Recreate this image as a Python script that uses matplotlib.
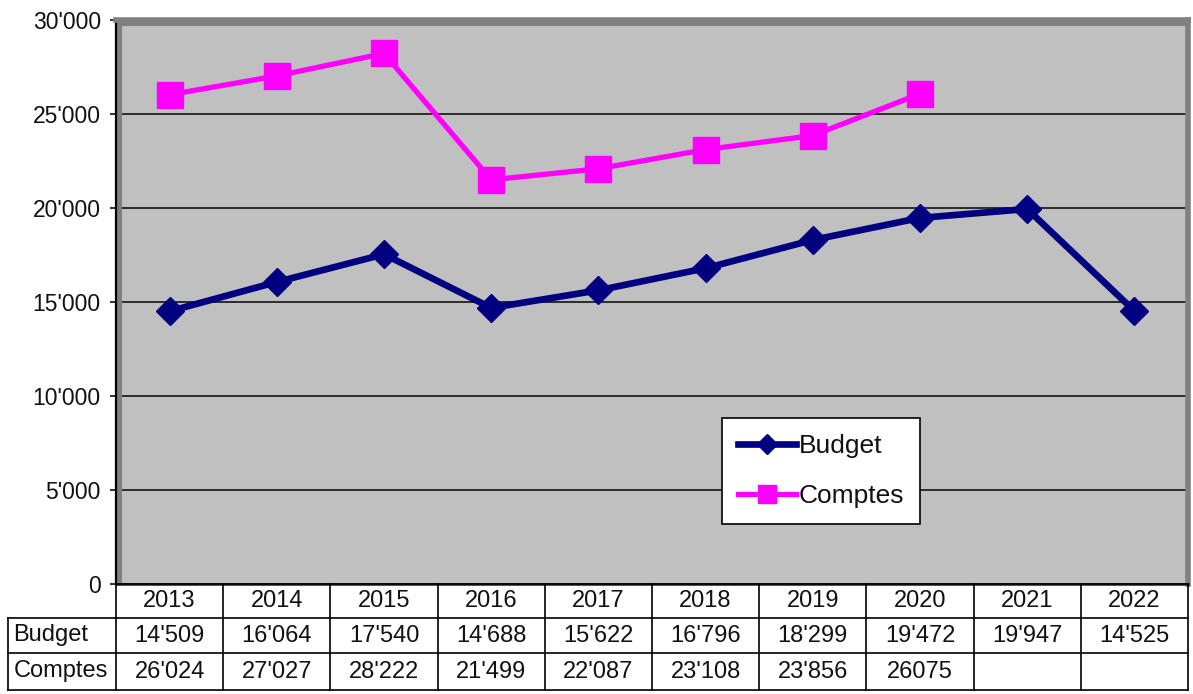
import matplotlib
matplotlib.use("Agg")
import matplotlib.pyplot as plt
from matplotlib.ticker import FuncFormatter, MultipleLocator
from matplotlib.transforms import blended_transform_factory

plt.rcParams['font.family'] = ['Liberation Sans', 'DejaVu Sans']

years = ['2013', '2014', '2015', '2016', '2017', '2018', '2019', '2020', '2021', '2022']
budget = [14509, 16064, 17540, 14688, 15622, 16796, 18299, 19472, 19947, 14525]
comptes = [26024, 27027, 28222, 21499, 22087, 23108, 23856, 26075]
budget_text = ["14'509", "16'064", "17'540", "14'688", "15'622", "16'796", "18'299", "19'472", "19'947", "14'525"]
comptes_text = ["26'024", "27'027", "28'222", "21'499", "22'087", "23'108", "23'856", "26075", "", ""]
row_labels = ['Budget', 'Comptes']

W, H = 1193, 694
fig = plt.figure(figsize=(W / 100, H / 100), dpi=100)
L, R, T, B = 116, 1188, 20, 584
ax = fig.add_axes([L / W, 1 - B / H, (R - L) / W, (B - T) / H])
ax.set_facecolor('#C0C0C0')

x = list(range(len(years)))
ax.plot(x, budget, color='#000080', lw=4.8, marker='D', markersize=14,
        label='Budget', zorder=3)
ax.plot(x[:len(comptes)], comptes, color='#FF00FF', lw=3.8, marker='s',
        markersize=19, label='Comptes', zorder=4)

ax.set_xlim(-0.5, len(years) - 0.5)
ax.set_ylim(0, 30000)
ax.yaxis.set_major_locator(MultipleLocator(5000))
ax.yaxis.set_major_formatter(FuncFormatter(lambda v, p: f"{int(v):,}".replace(',', "'")))
ax.tick_params(axis='y', direction='out', length=4, width=1.2, pad=7,
               labelsize=16.5, colors='#111111')
ax.tick_params(axis='x', bottom=False, labelbottom=False)
ax.grid(axis='y', color='#202020', lw=1.3)
ax.set_axisbelow(True)

# wall 3D-like borders
ax.axhline(30000, color='#808080', lw=8, zorder=1)
ax.axvline(-0.5, color='#808080', lw=8, zorder=1)
for s in ['top', 'right']:
    ax.spines[s].set_color('#808080')
    ax.spines[s].set_linewidth(4)
ax.spines['left'].set_color('black')
ax.spines['left'].set_linewidth(1.6)
ax.spines['bottom'].set_color('#404040')
ax.spines['bottom'].set_linewidth(2)

leg = ax.legend(loc='upper left', bbox_to_anchor=((722 - L) / (R - L), (B - 418) / (B - T)),
                borderaxespad=0, fancybox=False, framealpha=1, edgecolor='black',
                fontsize=19, handlelength=2.2, handletextpad=0.1, labelspacing=1.0,
                markerscale=0.7, borderpad=0.6)
leg.get_frame().set_linewidth(1.2)
for t in leg.get_texts():
    t.set_color('#111111')

# data table below the axis
tr = blended_transform_factory(ax.transData, ax.transAxes)
ph = B - T
row_edges = [0, -34 / ph, -69 / ph, -106 / ph]
n = len(years)
lab_left = -0.5 - 108 / ((R - L) / n)
kw = dict(color='black', lw=1.2, transform=tr, clip_on=False, zorder=5,
          solid_capstyle='projecting')
ax.plot([-0.5, n - 0.5], [row_edges[0]] * 2, **kw)
for ye in row_edges[1:]:
    ax.plot([lab_left, n - 0.5], [ye] * 2, **kw)
for i in range(n + 1):
    ax.plot([i - 0.5, i - 0.5], [row_edges[0], row_edges[3]], **kw)
ax.plot([lab_left, lab_left], [row_edges[1], row_edges[3]], **kw)

fs = 17
tc = '#111111'
for i, yr in enumerate(years):
    ax.text(i, (row_edges[0] + row_edges[1]) / 2, yr, transform=tr, ha='center',
            va='center', fontsize=fs, color=tc)
for r, (lab, vals) in enumerate(zip(row_labels, [budget_text, comptes_text])):
    yc = (row_edges[r + 1] + row_edges[r + 2]) / 2
    ax.text(lab_left + 0.05, yc, lab, transform=tr, ha='left', va='center',
            fontsize=fs, color=tc)
    for i, v in enumerate(vals):
        ax.text(i, yc, v, transform=tr, ha='center', va='center', fontsize=fs, color=tc)

fig.savefig('out.png', dpi=100)
